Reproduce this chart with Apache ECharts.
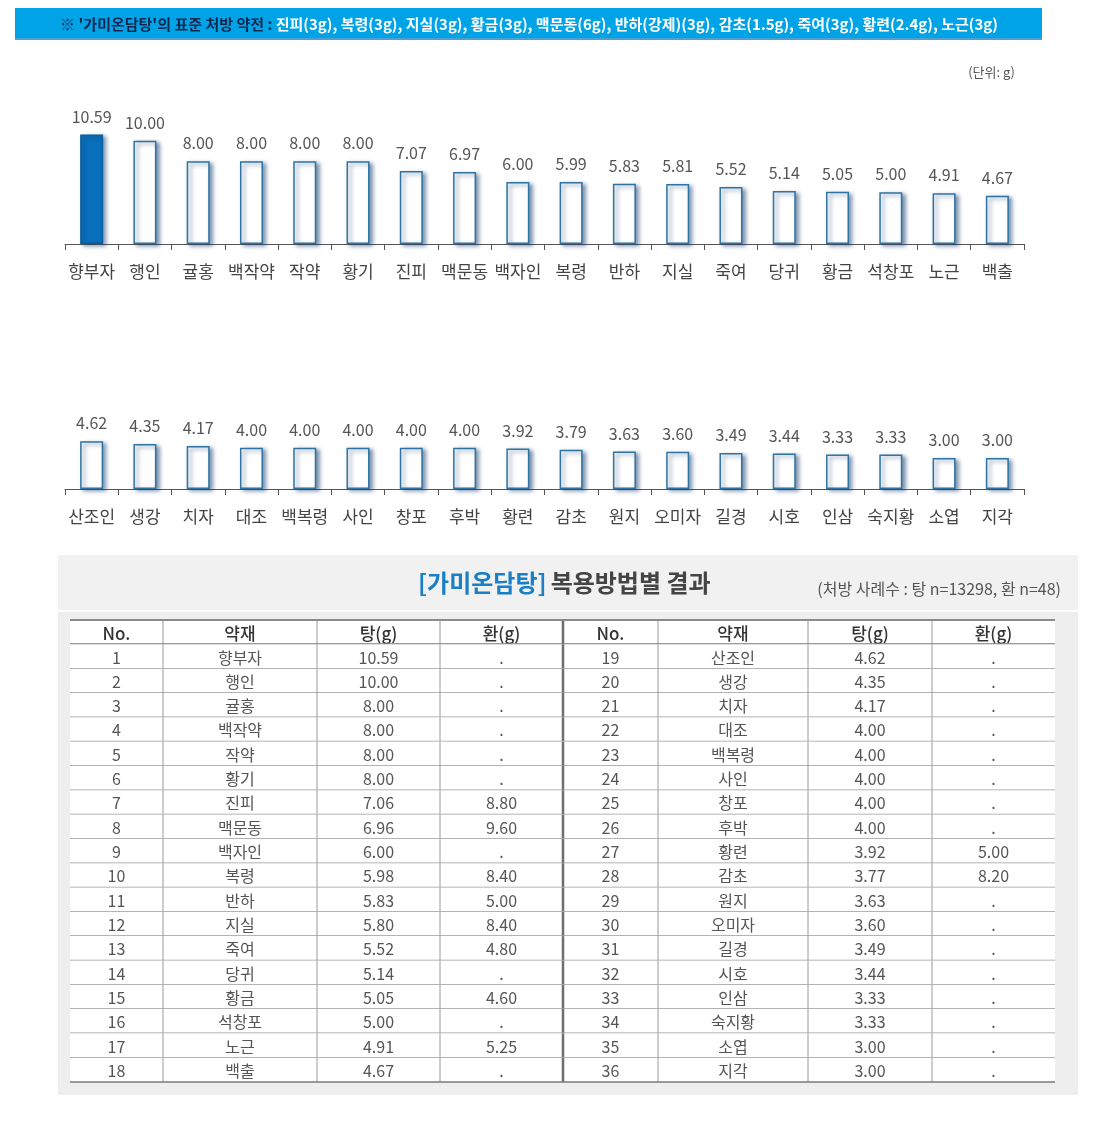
<!DOCTYPE html>
<html>
<head>
<meta charset="utf-8">
<script src="https://cdn.jsdelivr.net/npm/echarts@6/dist/echarts.min.js"></script>
<style>
  html, body { margin: 0; padding: 0; background: #fff; }
  #chart { width: 1114px; height: 1122px; }
</style>
</head>
<body>
<div id="chart"></div>
<script>
// 상단 그래프 (1~18위)
const herbsTop = ['향부자', '행인', '귤홍', '백작약', '작약', '황기', '진피', '맥문동', '백자인',
  '복령', '반하', '지실', '죽여', '당귀', '황금', '석창포', '노근', '백출']
const doseTop = [10.59, 10.00, 8.00, 8.00, 8.00, 8.00, 7.07, 6.97, 6.00,
  5.99, 5.83, 5.81, 5.52, 5.14, 5.05, 5.00, 4.91, 4.67]

// 하단 그래프 (19~36위)
const herbsBottom = ['산조인', '생강', '치자', '대조', '백복령', '사인', '창포', '후박', '황련',
  '감초', '원지', '오미자', '길경', '시호', '인삼', '숙지황', '소엽', '지각']
const doseBottom = [4.62, 4.35, 4.17, 4.00, 4.00, 4.00, 4.00, 4.00, 3.92,
  3.79, 3.63, 3.60, 3.49, 3.44, 3.33, 3.33, 3.00, 3.00]

// 표 데이터
const tableNo = [1, 2, 3, 4, 5, 6, 7, 8, 9, 10, 11, 12, 13, 14, 15, 16, 17, 18,
  19, 20, 21, 22, 23, 24, 25, 26, 27, 28, 29, 30, 31, 32, 33, 34, 35, 36]
const tableHerbs = herbsTop.concat(herbsBottom)
const tableTang = [10.59, 10.00, 8.00, 8.00, 8.00, 8.00, 7.06, 6.96, 6.00,
  5.98, 5.83, 5.80, 5.52, 5.14, 5.05, 5.00, 4.91, 4.67,
  4.62, 4.35, 4.17, 4.00, 4.00, 4.00, 4.00, 4.00, 3.92,
  3.77, 3.63, 3.60, 3.49, 3.44, 3.33, 3.33, 3.00, 3.00]
const tableHwan = [null, null, null, null, null, null, 8.80, 9.60, null,
  8.40, 5.00, 8.40, 4.80, null, 4.60, null, 5.25, null,
  null, null, null, null, null, null, null, null, 5.00,
  8.20, null, null, null, null, null, null, null, null]
const tableHeader = ['No.', '약재', '탕(g)', '환(g)']

const bannerLead = '※ \'가미온담탕\'의 표준 처방 약전 : '
const bannerHerbs = '진피(3g), 복령(3g), 지실(3g), 황금(3g), 맥문동(6g), 반하(강제)(3g), 감초(1.5g), 죽여(3g), 황련(2.4g), 노근(3g)'

const FONT = '"Noto Sans CJK KR", "Noto Sans", sans-serif'
const colEdges = [0, 93, 247, 370, 493, 588, 738, 862, 985] // 표 열 경계 (표 안쪽 기준)
const rowKeys = ['head'].concat(tableNo.slice(0, 18).map(String))

const chart = echarts.init(document.getElementById('chart'))

function fmt(v) {
  return v == null ? '.' : v.toFixed(2)
}

function barSeries(idx, values) {
  return {
    type: 'bar',
    xAxisIndex: idx,
    yAxisIndex: idx,
    barWidth: 23,
    data: values.map((v, i) => {
      if (idx === 0 && i === 0) {
        return { value: v, itemStyle: { color: '#0a70bd', borderColor: '#0a5d9e' } }
      }
      return v
    }),
    itemStyle: {
      color: '#fff',
      borderColor: '#2f73a3',
      borderWidth: 1.5,
      shadowColor: 'rgba(20, 60, 110, 0.55)',
      shadowBlur: 4,
      shadowOffsetX: 3,
      shadowOffsetY: 2
    },
    label: {
      show: true,
      position: 'top',
      distance: 10,
      color: '#555',
      fontSize: 16,
      fontFamily: FONT,
      formatter: p => p.value.toFixed(2)
    },
    silent: true
  }
}

function categoryAxis(idx, names) {
  return {
    type: 'category',
    gridIndex: idx,
    data: names,
    boundaryGap: true,
    axisLine: { lineStyle: { color: '#555', width: 1 } },
    axisTick: { show: true, length: 6, lineStyle: { color: '#555' } },
    axisLabel: { interval: 0, color: '#444', fontSize: 17, fontFamily: FONT, margin: 19 }
  }
}

function renderRow(params, api) {
  const r = api.value(1)
  const c = api.coord([0, r])
  const h = api.size([0, 1])[1]
  const top = c[1] - h / 2
  const bottom = c[1] + h / 2
  const xs = colEdges.map(e => api.coord([e, r])[0])
  const children = [{
    type: 'rect',
    shape: { x: xs[0], y: top, width: xs[8] - xs[0], height: h },
    style: { fill: '#fff' }
  }]
  let cells
  if (r === 0) {
    cells = tableHeader.concat(tableHeader)
  } else {
    const a = r - 1
    const b = r - 1 + 18
    cells = [tableNo[a], tableHerbs[a], fmt(tableTang[a]), fmt(tableHwan[a]),
      tableNo[b], tableHerbs[b], fmt(tableTang[b]), fmt(tableHwan[b])]
  }
  cells.forEach((t, i) => {
    children.push({
      type: 'text',
      style: {
        text: String(t),
        x: (xs[i] + xs[i + 1]) / 2,
        y: c[1] + 1,
        align: 'center',
        verticalAlign: 'middle',
        fill: r === 0 ? '#333' : '#555',
        font: (r === 0 ? '500 17px ' : '16px ') + FONT
      }
    })
  })
  for (let i = 1; i < 8; i++) {
    children.push({
      type: 'line',
      shape: { x1: xs[i], y1: top, x2: xs[i], y2: bottom },
      style: { stroke: i === 4 ? '#6e6e6e' : '#9a9a9a', lineWidth: i === 4 ? 2.5 : 1 }
    })
  }
  if (r === 0) {
    children.push({
      type: 'line',
      shape: { x1: xs[0], y1: top, x2: xs[8], y2: top },
      style: { stroke: '#8a8a8a', lineWidth: 2 }
    })
  }
  children.push({
    type: 'line',
    shape: { x1: xs[0], y1: bottom, x2: xs[8], y2: bottom },
    style: { stroke: r === 0 || r === 18 ? '#7a7a7a' : '#9a9a9a', lineWidth: r === 0 ? 2 : 1.5 }
  })
  return { type: 'group', children }
}

const options = {
  backgroundColor: '#fff',
  animation: false,
  textStyle: { fontFamily: FONT },
  title: [{
    text: '{b|[가미온담탕]} {d|복용방법별 결과}',
    left: 413,
    top: 566,
    textStyle: {
      rich: {
        b: { color: '#1a7fc4', fontSize: 24, fontWeight: 'bold', fontFamily: FONT },
        d: { color: '#444', fontSize: 24, fontWeight: 'bold', fontFamily: FONT }
      }
    }
  }, {
    text: '(처방 사례수 : 탕 n=13298, 환 n=48)',
    right: 48,
    top: 576,
    textStyle: { color: '#555', fontSize: 16, fontWeight: 'normal', fontFamily: FONT }
  }],
  graphic: [
    {
      type: 'rect', silent: true, z: -10,
      shape: { x: 15, y: 8, width: 1027, height: 32 },
      style: { fill: '#00a3e6' }
    },
    {
      type: 'rect', silent: true, z: -9,
      shape: { x: 15, y: 38, width: 1027, height: 2 },
      style: { fill: '#4f9fd0' }
    },
    {
      type: 'text', silent: true,
      style: {
        x: 529, y: 24,
        align: 'center', verticalAlign: 'middle',
        text: '{a|' + bannerLead + '}{w|' + bannerHerbs + '}',
        rich: {
          a: { fill: '#15264e', font: 'bold 15px ' + FONT },
          w: { fill: '#fff', font: 'bold 15px ' + FONT }
        }
      }
    },
    {
      type: 'text', silent: true,
      style: {
        x: 1015, y: 72, align: 'right', verticalAlign: 'middle',
        text: '(단위: g)', fill: '#555', font: '13px ' + FONT
      }
    },
    {
      type: 'rect', silent: true, z: -10,
      shape: { x: 58, y: 555, width: 1020, height: 55 },
      style: { fill: '#f1f1f1' }
    },
    {
      type: 'rect', silent: true, z: -10,
      shape: { x: 58, y: 612, width: 1020, height: 483 },
      style: { fill: '#eeeeee' }
    }
  ],
  grid: [
    { left: 65, right: 90, top: 120, height: 124 },
    { left: 65, right: 90, top: 365, height: 124 },
    { left: 70, top: 620, width: 985, height: 462 }
  ],
  xAxis: [
    categoryAxis(0, herbsTop),
    categoryAxis(1, herbsBottom),
    { type: 'value', gridIndex: 2, min: 0, max: 985, show: false }
  ],
  yAxis: [
    { type: 'value', gridIndex: 0, min: 0, max: 12, show: false },
    { type: 'value', gridIndex: 1, min: 0, max: 12, show: false },
    { type: 'category', gridIndex: 2, data: rowKeys, inverse: true, show: false }
  ],
  series: [
    barSeries(0, doseTop),
    barSeries(1, doseBottom),
    {
      type: 'custom',
      xAxisIndex: 2,
      yAxisIndex: 2,
      silent: true,
      renderItem: renderRow,
      data: rowKeys.map((k, i) => [0, i]),
      encode: { x: 0, y: 1 }
    }
  ]
}

chart.setOption(options)

window.addEventListener('resize', chart.resize)
</script>
</body>
</html>
